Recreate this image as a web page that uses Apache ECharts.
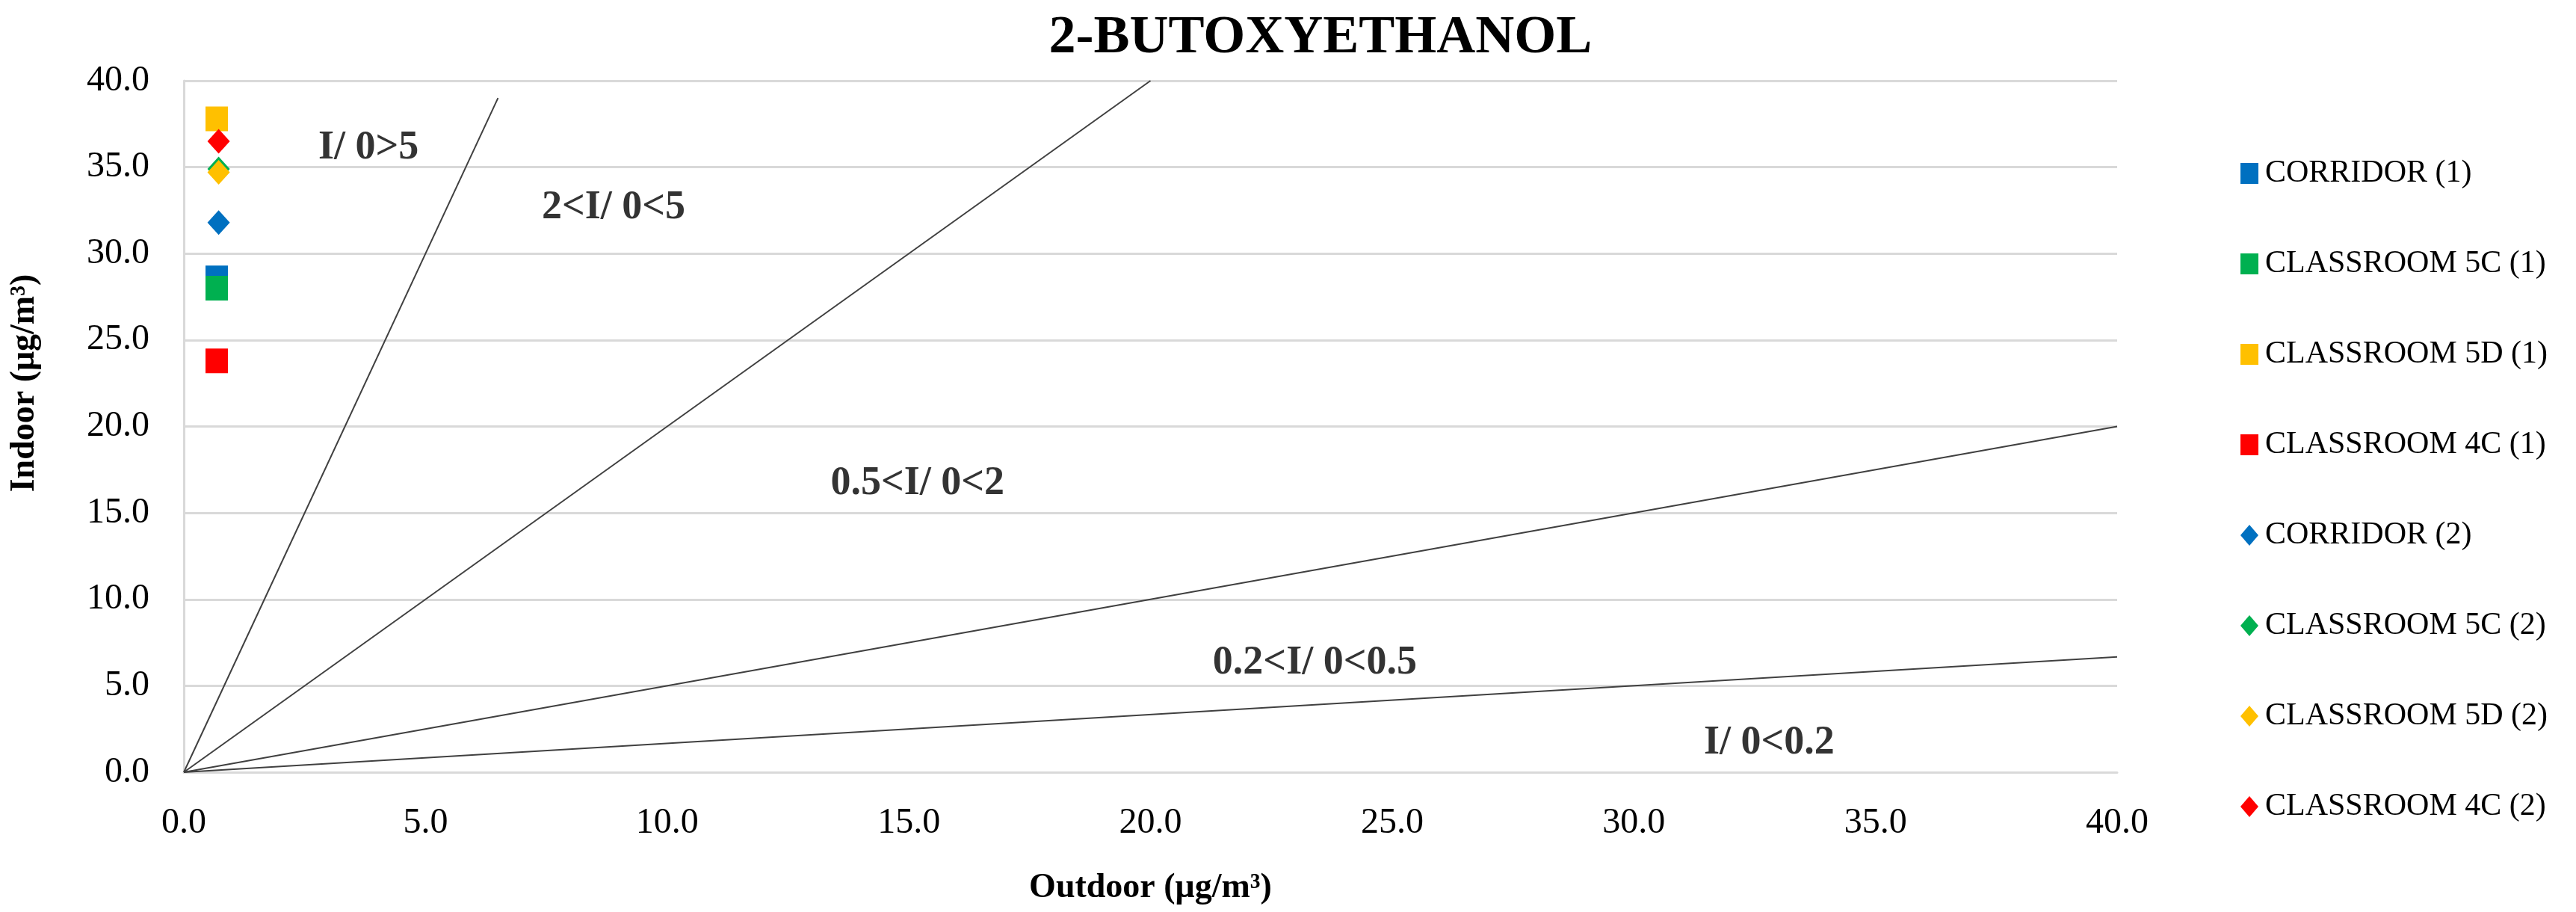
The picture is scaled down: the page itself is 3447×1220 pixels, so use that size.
<!DOCTYPE html>
<html>
<head>
<meta charset="utf-8">
<script src="https://cdn.jsdelivr.net/npm/echarts@6/dist/echarts.min.js"></script>
<style>
  html, body { margin: 0; padding: 0; background: #fff; }
  #chart { width: 3447px; height: 1220px; }
</style>
</head>
<body>
<div id="chart"></div>
<script>
  // series shown in the legend, same order as the reference
  const seriesNames = [
    'CORRIDOR (1)', 'CLASSROOM 5C (1)', 'CLASSROOM 5D (1)', 'CLASSROOM 4C (1)',
    'CORRIDOR (2)', 'CLASSROOM 5C (2)', 'CLASSROOM 5D (2)', 'CLASSROOM 4C (2)'
  ]
  const outdoorValues = [0.68, 0.68, 0.68, 0.68, 0.72, 0.72, 0.72, 0.72]
  const indoorValues = [28.6, 28.0, 37.8, 23.8, 31.8, 34.9, 34.7, 36.5]

  // I/O reference lines, each from the origin to its end point
  const ratioLineEnds = [[6.5, 39], [20, 40], [40, 20], [40, 6.67]]

  // zone annotations
  const zoneLabels = ['I/ 0>5', '2<I/ 0<5', '0.5<I/ 0<2', '0.2<I/ 0<0.5', 'I/ 0<0.2']
  const zoneX = [3.82, 8.89, 15.18, 23.4, 32.8]
  const zoneY = [36.1, 32.65, 16.69, 6.3, 1.7]

  const axisMin = 0
  const axisMax = 40
  const axisStep = 5

  const COLORS = ['#0070C0', '#00B050', '#FFC000', '#FF0000']
  const FONT = '"Liberation Serif", "DejaVu Serif", serif'

  const chart = echarts.init(document.getElementById('chart'))

  const lineSeries = ratioLineEnds.map(end => ({
    type: 'line',
    silent: true,
    symbol: 'none',
    lineStyle: { color: '#404040', width: 2 },
    data: [[0, 0], end],
    z: 2
  }))

  const pointSeries = seriesNames.map((name, i) => ({
    name,
    type: 'scatter',
    symbol: i < 4 ? 'rect' : 'diamond',
    symbolSize: [30, 33],
    itemStyle: { color: COLORS[i % 4], opacity: 1 },
    data: [[outdoorValues[i], indoorValues[i]]],
    z: 5
  }))

  const labelSeries = {
    type: 'scatter',
    silent: true,
    symbolSize: 0,
    data: zoneLabels.map((text, i) => ({ value: [zoneX[i], zoneY[i]], name: text })),
    label: {
      show: true,
      position: 'inside',
      formatter: p => p.name,
      color: '#000',
      fontFamily: FONT,
      fontWeight: 'bold',
      fontSize: 54
    },
    z: 4
  }

  const tickFmt = v => v.toFixed(1)

  chart.setOption({
    animation: false,
    backgroundColor: '#fff',
    title: {
      text: '2-BUTOXYETHANOL',
      left: 1762,
      top: 10,
      textAlign: 'center',
      textStyle: { fontFamily: FONT, fontWeight: 'bold', fontSize: 72, color: '#000' }
    },
    legend: {
      orient: 'vertical',
      left: 2993,
      top: 205,
      itemWidth: 24,
      itemHeight: 28,
      itemGap: 77,
      data: seriesNames,
      textStyle: { fontFamily: FONT, fontSize: 42, lineHeight: 44, color: '#000', padding: [0, 0, 0, 4] }
    },
    grid: { left: 246, right: 614, top: 108, bottom: 187 },
    xAxis: {
      type: 'value',
      min: axisMin,
      max: axisMax,
      interval: axisStep,
      name: 'Outdoor (μg/m³)',
      nameLocation: 'middle',
      nameGap: 132,
      nameTextStyle: { fontFamily: FONT, fontWeight: 'bold', fontSize: 46, color: '#000' },
      axisLine: { show: true, lineStyle: { color: '#d9d9d9', width: 3 } },
      axisTick: { show: false },
      splitLine: { show: false },
      axisLabel: { formatter: tickFmt, margin: 44, fontFamily: FONT, fontSize: 48, color: '#000' }
    },
    yAxis: {
      type: 'value',
      min: axisMin,
      max: axisMax,
      interval: axisStep,
      name: 'Indoor (μg/m³)',
      nameLocation: 'middle',
      nameRotate: 90,
      nameGap: 190,
      nameTextStyle: { fontFamily: FONT, fontWeight: 'bold', fontSize: 46, color: '#000', padding: [0, 0, 0, 116] },
      axisLine: { show: true, lineStyle: { color: '#d9d9d9', width: 3 } },
      axisTick: { show: false },
      splitLine: { show: true, lineStyle: { color: '#d9d9d9', width: 3 } },
      axisLabel: { formatter: tickFmt, margin: 46, fontFamily: FONT, fontSize: 48, color: '#000' }
    },
    series: [...lineSeries, labelSeries, ...pointSeries]
  })
</script>
</body>
</html>
